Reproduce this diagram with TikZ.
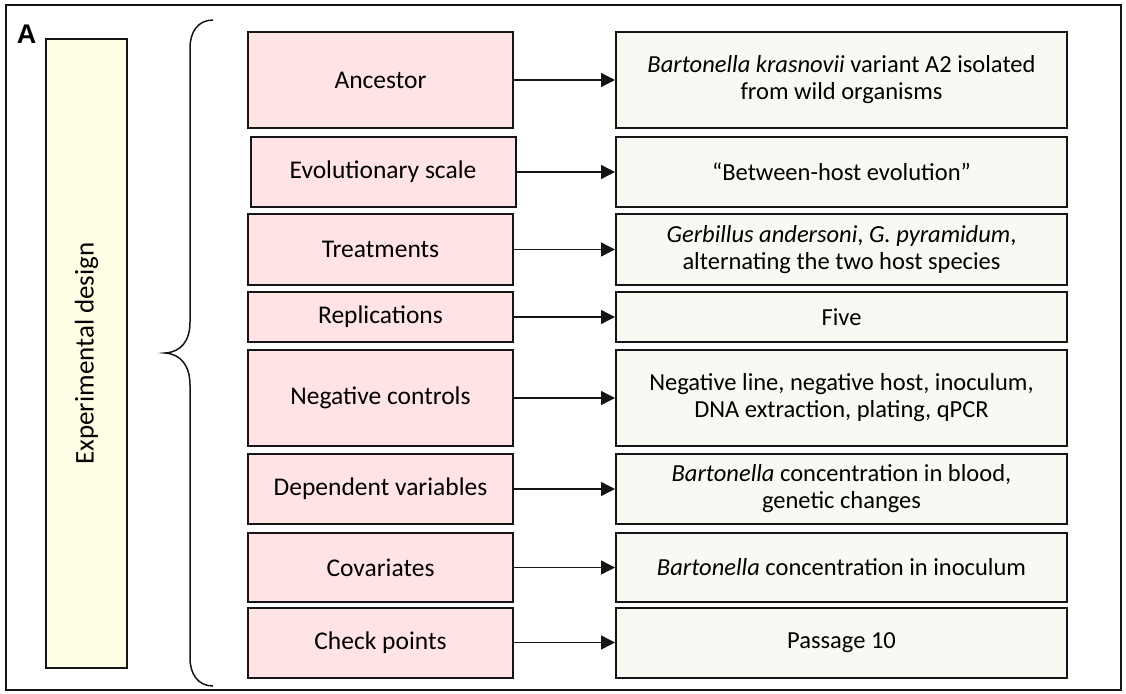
\documentclass[tikz,border=0pt]{standalone}
\usepackage{fontspec}
\setmainfont{Carlito}
\newfontfamily\labfont{Liberation Sans}
\usetikzlibrary{arrows.meta}
\definecolor{pinkc}{HTML}{FFE3E5}
\definecolor{greenc}{HTML}{F7F9F3}
\definecolor{yellowc}{HTML}{FFFFE6}
\definecolor{edgec}{HTML}{151515}
\begin{document}
\begin{tikzpicture}[x=1pt,y=-1pt,
  ptxt/.style={font=\fontsize{25.5}{27}\selectfont},
  gtxt/.style={font=\fontsize{24.5}{27}\selectfont},
  pbox/.style={ptxt, draw=edgec, line width=2pt, fill=pinkc, minimum width=265pt, inner sep=0pt, align=center},
  gbox/.style={gtxt, draw=edgec, line width=2pt, fill=greenc, minimum width=451pt, inner sep=0pt, align=center},
  conn/.style={-{Triangle[length=14pt,width=14pt]}, line width=1.4pt, draw=edgec}]
\useasboundingbox (0,0) rectangle (1126,693);
\draw[line width=2.2pt, draw=edgec] (6,5) rectangle (1121,690);
\node[font=\labfont\bfseries\fontsize{27}{27}\selectfont, inner sep=0pt] (lab) at (26.5,34.5) {A};
\node[draw=edgec, line width=1.4pt, fill=yellowc, minimum width=81pt, minimum height=629pt, inner sep=0pt] (ed) at (86.5,353.5) {};
\node[font=\fontsize{27}{30}\selectfont, rotate=90] (edt) at (ed.center) {Experimental design};
\draw[line width=1.5pt, draw=edgec] (213,20) .. controls (198,20) and (190,32) .. (190,48) -- (190,322) .. controls (190,341) and (181,352) .. (165,353) .. controls (181,354) and (190,366) .. (190,385) -- (190,658) .. controls (190,674) and (198,686) .. (213,686);
% pink boxes
\node[pbox, minimum height=96pt] (p1) at (380.5,80) {Ancestor};
\node[pbox, minimum height=70pt] (p2) at (383,172) {Evolutionary scale};
\node[pbox, minimum height=71pt] (p3) at (380.5,249.5) {Treatments};
\node[pbox, minimum height=50pt] (p4) at (380.5,317) {Replications};
\node[pbox, minimum height=96pt] (p5) at (380.5,398) {Negative controls};
\node[pbox, minimum height=70pt] (p6) at (380.5,489) {Dependent variables};
\node[pbox, minimum height=69pt] (p7) at (380.5,567.5) {Covariates};
\node[pbox, minimum height=70pt] (p8) at (380.5,642.5) {Check points};
% green boxes
\node[gbox, minimum height=96pt] (g1) at (841.5,80) {\textit{Bartonella krasnovii} variant A2 isolated\\from wild organisms};
\node[gbox, minimum height=70pt] (g2) at (841.5,172) {“Between-host evolution”};
\node[gbox, minimum height=71pt] (g3) at (841.5,249.5) {\textit{Gerbillus andersoni}, \textit{G. pyramidum},\\alternating the two host species};
\node[gbox, minimum height=50pt] (g4) at (841.5,317) {Five};
\node[gbox, minimum height=96pt] (g5) at (841.5,398) {Negative line, negative host, inoculum,\\DNA extraction, plating, qPCR};
\node[gbox, minimum height=70pt] (g6) at (841.5,489) {\textit{Bartonella} concentration in blood,\\genetic changes};
\node[gbox, minimum height=69pt] (g7) at (841.5,567.5) {\textit{Bartonella} concentration in inoculum};
\node[gbox, minimum height=70pt] (g8) at (841.5,642.5) {Passage 10};
% connectors
\foreach \i in {1,...,8} {\draw[conn] (p\i) -- (g\i);}
\end{tikzpicture}
\end{document}
